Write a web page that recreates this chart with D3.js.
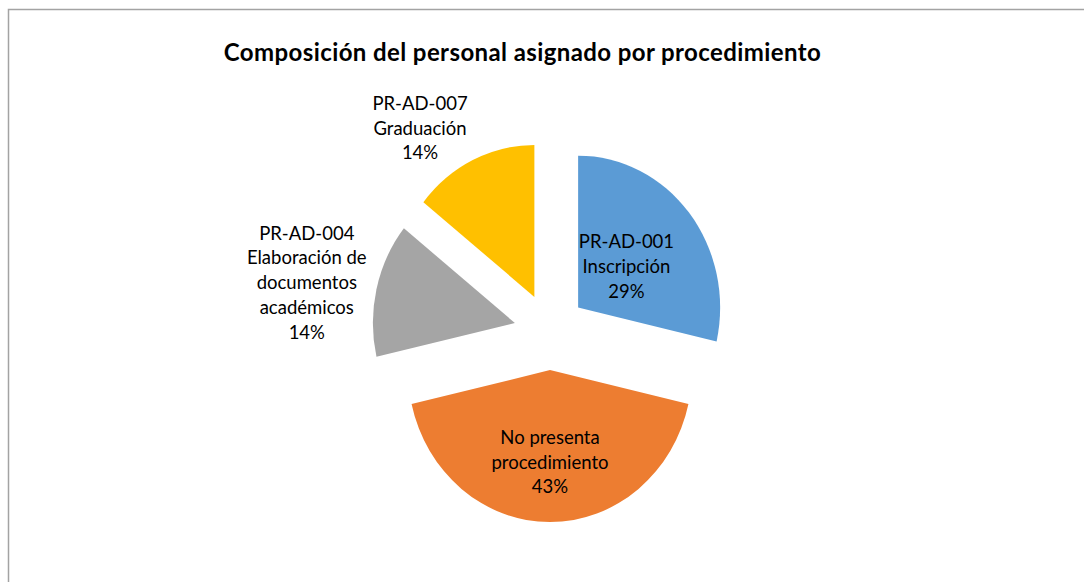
<!DOCTYPE html>
<html>
<head>
<meta charset="utf-8">
<script src="https://cdn.jsdelivr.net/npm/d3@7"></script>
<style>
  body { margin: 0; background: #fff; }
  svg { display: block; }
</style>
</head>
<body>
<svg id="chart" width="1084" height="582"></svg>
<script>
// data
const categories = [
  'PR-AD-001\nInscripción',
  'No presenta\nprocedimiento',
  'PR-AD-004\nElaboración de\ndocumentos\nacadémicos',
  'PR-AD-007\nGraduación'
];
const values = [2, 3, 1, 1];
const colors = ['#5B9BD5', '#ED7D31', '#A5A5A5', '#FFC000'];
const title = 'Composición del personal asignado por procedimiento';

const svg = d3.select('#chart');
const width = +svg.attr('width');
const height = +svg.attr('height');

const font = 'Lato, "Open Sans", sans-serif';
const cx = 550, cy = 331.6;
const radius = 142;
const explode = 36;
const stretch = 1.07;   // the picture is a bit taller than wide
const lineH = 24.8;

// chart frame
svg.append('rect')
  .attr('x', 8.5).attr('y', 9.5)
  .attr('width', width + 10).attr('height', height + 10)
  .attr('fill', 'none')
  .attr('stroke', '#a3a3a3')
  .attr('stroke-width', 1.5);

svg.append('text')
  .attr('x', 522.5).attr('y', 61)
  .attr('text-anchor', 'middle')
  .attr('font-family', font)
  .attr('font-weight', 'bold')
  .attr('font-size', 24)
  .attr('letter-spacing', 0.4)
  .attr('fill', '#000')
  .text(title);

const total = d3.sum(values);
const pie = d3.pie().sort(null).value(d => d.value);
const arcs = pie(values.map((v, i) => ({ name: categories[i], value: v, color: colors[i] })));

const arc = d3.arc().innerRadius(0).outerRadius(radius);

const plot = svg.append('g')
  .attr('transform', `translate(${cx},${cy}) scale(1,${stretch})`);

const dir = d => {
  const a = (d.startAngle + d.endAngle) / 2;
  return [Math.sin(a), -Math.cos(a)];
};

plot.selectAll('path.slice')
  .data(arcs)
  .join('path')
    .attr('class', 'slice')
    .attr('d', arc)
    .attr('fill', d => d.data.color)
    .attr('transform', d => {
      const [dx, dy] = dir(d);
      return `translate(${dx * explode},${dy * explode})`;
    });

// labels: inside for big slices, outside next to the arc for small ones
const labels = svg.selectAll('g.label')
  .data(arcs)
  .join('g')
    .attr('class', 'label');

labels.each(function(d) {
  const g = d3.select(this);
  const lines = d.data.name.split('\n').concat(Math.round(d.value / total * 100) + '%');
  const [dx, dy] = dir(d);
  const share = d.value / total;
  const txt = g.append('text')
    .attr('text-anchor', 'middle')
    .attr('font-family', font)
    .attr('font-size', 18.5)
    .attr('fill', '#000');
  lines.forEach((l, i) => {
    txt.append('tspan')
      .attr('x', 0)
      .attr('y', (i - (lines.length - 1) / 2) * lineH)
      .attr('dy', '0.35em')
      .text(l);
  });
  const bb = txt.node().getBBox();
  const h = lines.length * lineH;
  let px, py;
  if (share > 0.2) {
    // keep the far side of the label box a bit inside the arc
    const reach = Math.abs(dx) * bb.width / 2 + Math.abs(dy) * h / 2 / stretch;
    const k = explode + radius * 0.85 - reach;
    px = cx + dx * k;
    py = cy + dy * k * stretch;
  } else {
    const ax = cx + dx * (explode + radius);
    const ay = cy + dy * (explode + radius) * stretch;
    px = ax + Math.sign(dx) * (bb.width / 2 + 4 + 6 * dx * dx);
    py = ay + dy * Math.sqrt(Math.abs(dy)) * h / 2;
  }
  g.attr('transform', `translate(${px},${py})`);
});
</script>
</body>
</html>
